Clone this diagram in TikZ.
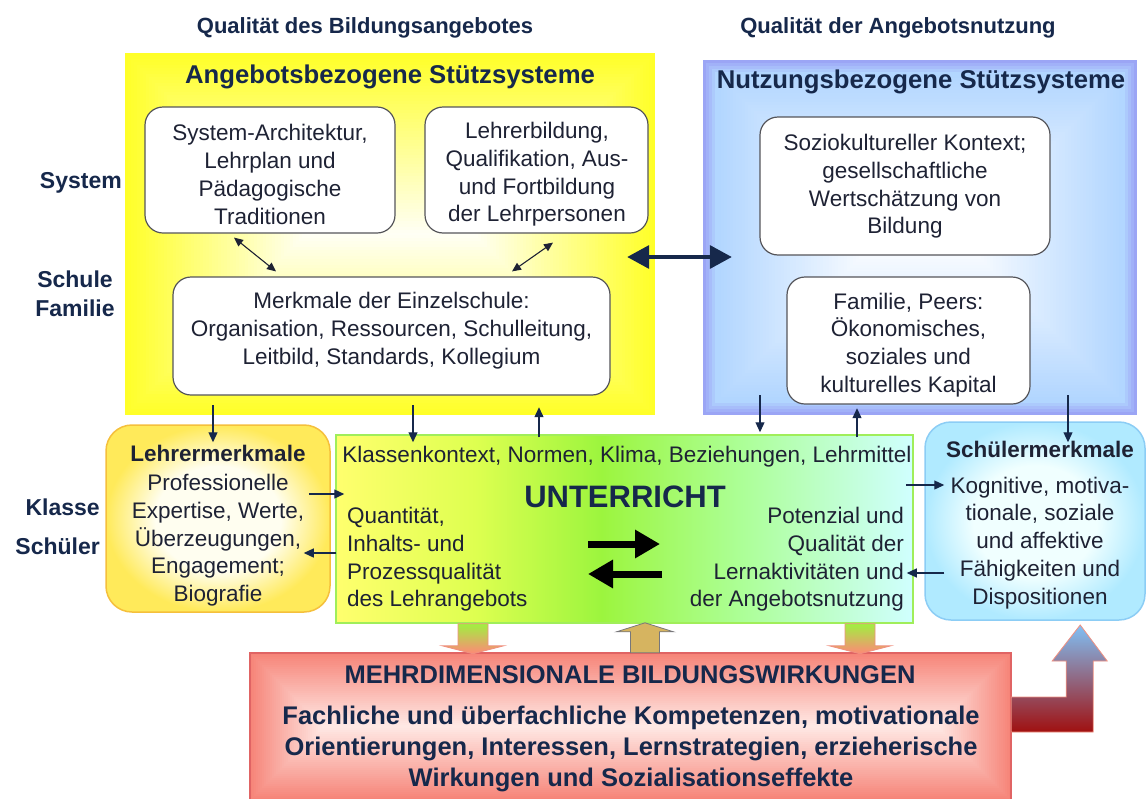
\documentclass[tikz,border=0pt]{standalone}
\usepackage{fontspec}
\setmainfont{Liberation Sans}
\usetikzlibrary{arrows.meta,calc}
\definecolor{navy}{RGB}{22,40,75}
\definecolor{txt}{RGB}{30,34,52}
\definecolor{ylw}{RGB}{255,255,40}
\definecolor{ylwC}{RGB}{255,255,245}
\definecolor{peri}{RGB}{155,165,245}
\definecolor{lblue}{RGB}{178,214,255}
\definecolor{redE}{RGB}{246,132,120}
\definecolor{redC}{RGB}{255,232,228}
\definecolor{redB}{RGB}{224,100,100}
\definecolor{uL}{RGB}{255,255,110}
\definecolor{uY}{RGB}{222,255,80}
\definecolor{uG}{RGB}{156,245,62}
\definecolor{uG2}{RGB}{172,255,150}
\definecolor{uR}{RGB}{208,255,255}
\definecolor{uB}{RGB}{160,238,90}
\definecolor{lmO}{RGB}{255,234,90}
\definecolor{lmI}{RGB}{255,254,240}
\definecolor{lmB}{RGB}{245,192,60}
\definecolor{smO}{RGB}{176,234,255}
\definecolor{smI}{RGB}{240,255,255}
\definecolor{smB}{RGB}{140,205,245}
\definecolor{boxB}{RGB}{85,85,90}
\definecolor{arrTan}{RGB}{214,180,96}
\definecolor{arrGreen}{RGB}{160,240,64}
\definecolor{arrSalmon}{RGB}{255,136,119}
\definecolor{arrLine}{RGB}{240,144,128}
\definecolor{lArrTop}{RGB}{128,192,245}
\definecolor{lArrMid}{RGB}{145,100,140}
\definecolor{lArrBot}{RGB}{160,16,16}
\pgfdeclarehorizontalshading{unterr}{100bp}{color(0bp)=(uL); color(25bp)=(uL); color(37bp)=(uY); color(48bp)=(uG); color(60bp)=(uG2); color(75bp)=(uR); color(100bp)=(uR)}
\pgfdeclareradialshading{lmshade}{\pgfpoint{0bp}{0bp}}{color(0bp)=(lmI); color(14bp)=(lmI); color(25bp)=(lmO); color(50bp)=(lmO)}
\pgfdeclareradialshading{smshade}{\pgfpoint{0bp}{0bp}}{color(0bp)=(smI); color(14bp)=(smI); color(25bp)=(smO); color(50bp)=(smO)}
\newcommand\bodyf{\fontsize{22.5pt}{27.7pt}\selectfont}
\newcommand\hdf{\bfseries\fontsize{22pt}{26pt}\selectfont}
\newcommand\ttlf{\bfseries\fontsize{25.7pt}{30pt}\selectfont}
\newcommand\redf{\bfseries\fontsize{25.5pt}{31pt}\selectfont}
\newcommand\sidef{\bfseries\fontsize{23pt}{29pt}\selectfont}
\begin{document}
\begin{tikzpicture}[x=1pt,y=-1pt,
  wbox/.style={draw=boxB, line width=1.2pt, fill=white, rounded corners=18pt, inner sep=0pt},
  btext/.style={font=\bodyf, text=txt, align=center, inner sep=0pt},
  hdr/.style={font=\hdf, text=navy, inner sep=0pt},
  ttl/.style={font=\ttlf, text=navy, inner sep=0pt},
  sidelbl/.style={font=\sidef, text=navy, inner sep=0pt},
  ghost/.style={inner sep=0pt, draw=none},
  tarr/.style={draw=navy, line width=1.2pt, -{Triangle[length=10pt,width=9pt]}},
  bigarr/.style={draw=navy, line width=3.5pt, {Triangle[length=22pt,width=23pt]}-{Triangle[length=22pt,width=23pt]}},
  blackarr/.style={draw=black, line width=7pt, -{Triangle[length=25pt,width=27pt]}},
  downarr/.style={top color=arrGreen, bottom color=arrSalmon, draw=arrLine, line width=0.8pt},
]
\useasboundingbox (0,0) rectangle (1147,798);
\fill[white] (0,0) rectangle (1147,798);

% ---------- yellow panel ----------
\foreach \i in {0,...,60}{
  \pgfmathtruncatemacro\p{100-\i*100/60}
  \fill[ylw!\p!ylwC] ({125+3*\i},{53+3*\i}) rectangle ({655-3*\i},{415-3*\i});
}
\node[ghost, minimum width=530pt, minimum height=362pt] (yp) at (390,234) {};

% ---------- blue panel ----------
\foreach \i in {0,...,4}{
  \pgfmathtruncatemacro\p{100-\i*25}
  \fill[peri!\p!lblue] ({703+3*\i},{60+3*\i}) rectangle ({1137-3*\i},{415-3*\i});
}
\foreach \i in {5,...,59}{
  \pgfmathtruncatemacro\p{100-(\i-5)*100/54}
  \fill[lblue!\p!white] ({703+3*\i},{60+3*\i}) rectangle ({1137-3*\i},{415-3*\i});
}
\node[ghost, minimum width=434pt, minimum height=355pt] (bp) at (920,237.5) {};

% ---------- red box ----------
\foreach \i in {0,...,36}{
  \pgfmathtruncatemacro\p{100-\i*100/36}
  \fill[redE!\p!redC] ({250+2*\i},{653+2*\i}) rectangle ({1011-2*\i},{800-2*\i});
}
\draw[redB, line width=1.2pt] (250,800) -- (250,653) -- (1011,653) -- (1011,800);
\node[ghost, minimum width=761pt, minimum height=146pt] (rd) at (630.5,726) {};

% ---------- headers ----------
\node[hdr] (h1) at (365,28) {Qualität des Bildungsangebotes};
\node[hdr] (h2) at (898,28) {Qualität der Angebotsnutzung};
\node[ttl] (t1) at (390,77) {Angebotsbezogene Stützsysteme};
\node[ttl] (t2) at (921,82) {Nutzungsbezogene Stützsysteme};

% ---------- side labels ----------
\node[sidelbl, anchor=east] (lSys) at (122,183) {System};
\node[sidelbl, align=center] (lSch) at (75,293.5) {Schule\\Familie};
\node[sidelbl, anchor=east] (lKl) at (100,507) {Klasse};
\node[sidelbl, anchor=east] (lSu) at (100,546) {Schüler};

% ---------- white boxes ----------
\node[wbox, minimum width=250pt, minimum height=126pt] (bA) at (270,170) {};
\node[btext] (tA) at (270,174.5) {System-Architektur,\\Lehrplan und\\Pädagogische\\Traditionen};
\node[wbox, minimum width=223pt, minimum height=126pt] (bB) at (536.5,170) {};
\node[btext] (tB) at (537,174.5) {Lehrerbildung,\\Qualifikation, Aus-\\und Fortbildung\\der Lehrpersonen};
\node[wbox, minimum width=437pt, minimum height=118pt] (bC) at (391.5,336) {};
\node[btext] (tC) at (391.5,330.5) {Merkmale der Einzelschule:\\Organisation, Ressourcen, Schulleitung,\\Leitbild, Standards, Kollegium};
\node[wbox, minimum width=290pt, minimum height=138pt] (bD) at (905,186) {};
\node[btext] (tD) at (905,186.5) {Soziokultureller Kontext;\\gesellschaftliche\\Wertschätzung von\\Bildung};
\node[wbox, minimum width=243pt, minimum height=127pt] (bE) at (908.5,340.5) {};
\node[btext] (tE) at (908.5,345) {Familie, Peers:\\Ökonomisches,\\soziales und\\kulturelles Kapital};

\draw[draw=txt, line width=1.1pt, {Triangle[length=9pt,width=8pt]}-{Triangle[length=9pt,width=8pt]}]
  ($(bA.south)+(-36,4)$) -- ($(bC.north)+(-115.5,-5)$);
\draw[draw=txt, line width=1.1pt, {Triangle[length=9pt,width=8pt]}-{Triangle[length=9pt,width=8pt]}]
  ($(bB.south)+(16.5,9)$) -- ($(bC.north)+(120.5,-5)$);
\draw[bigarr] ($(yp.east)+(-28,23)$) -- ($(bp.west)+(29,19.5)$);

% ---------- middle row ----------
\node[draw=lmB, line width=1.5pt, rounded corners=26pt, shading=lmshade,
      minimum width=224pt, minimum height=187pt] (lm) at (218,518.5) {};
\node[btext, text=txt] (tlm) at (218,525.5) {\textbf{Lehrermerkmale}\\[2pt]Professionelle\\Expertise, Werte,\\Überzeugungen,\\Engagement;\\Biografie};

\node[draw=uB, line width=1.5pt, shading=unterr, minimum width=577pt, minimum height=188pt] (un) at (624.5,529) {};
\node[btext] (tun1) at (627,457) {Klassenkontext, Normen, Klima, Beziehungen, Lehrmittel};
\node[font=\bfseries\fontsize{31pt}{34pt}\selectfont, text=navy, inner sep=0pt] (tun2) at (625,497) {UNTERRICHT};
\node[btext, align=left, anchor=west] (tun3) at (347,559.5) {Quantität,\\Inhalts- und\\Prozessqualität\\des Lehrangebots};
\node[btext, align=right, anchor=east] (tun4) at (904,559.5) {Potenzial und\\Qualität der\\Lernaktivitäten und\\der Angebotsnutzung};

\node[draw=smB, line width=1.5pt, rounded corners=26pt, shading=smshade,
      minimum width=220pt, minimum height=198pt] (sm) at (1035,521) {};
\node[btext] (tsm) at (1040,525) {\textbf{Schülermerkmale}\\[8pt]Kognitive, motiva-\\tionale, soziale\\und affektive\\Fähigkeiten und\\Dispositionen};

\draw[blackarr] ($(un.center)+(-36.5,15)$) -- ($(un.center)+(35.5,15)$);
\draw[blackarr] ($(un.center)+(37.5,45)$) -- ($(un.center)+(-36.5,45)$);

% ---------- thin arrows ----------
\draw[tarr] ($(yp.south)+(-177,-10)$) -- ($(lm.north)+(-5,18)$);
\draw[tarr] ($(yp.south)+(23,-10)$) -- ($(un.north)+(-211.5,8)$);
\draw[tarr] ($(un.north)+(-85.5,3)$) -- ($(yp.south)+(149,-8)$);
\draw[tarr] ($(bp.south)+(-160,-20)$) -- ($(un.north)+(135.5,-2)$);
\draw[tarr] ($(un.north)+(232.5,3)$) -- ($(bp.south)+(-63,-7)$);
\draw[tarr] ($(bp.south)+(148,-20)$) -- ($(sm.north)+(33,21)$);
\draw[tarr] ($(lm.east)+(-22,-24.5)$) -- ($(un.west)+(9,-35)$);
\draw[tarr] ($(un.west)+(1,24)$) -- ($(lm.east)+(-27,34.5)$);
\draw[tarr] ($(un.east)+(-8,-44)$) -- ($(sm.west)+(20,-36)$);
\draw[tarr] ($(sm.west)+(20,52)$) -- ($(un.east)+(-7,44)$);

% ---------- block arrows ----------
\begin{scope}[shift={($(un.south)+(-151.5,0)$)}]
  \path[downarr] (-15,0) -- (15,0) -- (15,22) -- (31,22) -- (0,30) -- (-31,22) -- (-15,22) -- cycle;
\end{scope}
\begin{scope}[shift={($(un.south)+(235.5,0)$)}]
  \path[downarr] (-15,0) -- (15,0) -- (15,22) -- (31,22) -- (0,30) -- (-31,22) -- (-15,22) -- cycle;
\end{scope}
\begin{scope}[shift={($(rd.north)+(14.5,0)$)}]
  \filldraw[fill=arrTan, draw=boxB!80, line width=0.8pt] (-14.5,0) -- (-14.5,-21) -- (-28.5,-21) -- (0,-30) -- (28.5,-21) -- (14.5,-21) -- (14.5,0) -- cycle;
\end{scope}
\begin{scope}[shift={(rd.east)}]
  \path[top color=lArrTop, middle color=lArrMid, bottom color=lArrBot, draw=arrLine, line width=0.8pt]
    (0,-29) -- (55,-29) -- (55,-65) -- (41,-65) -- (69,-101) -- (96,-65) -- (82,-65) -- (82,6) -- (0,6) -- cycle;
\end{scope}

% ---------- red box text ----------
\node[font=\redf, text=navy, inner sep=0pt] (r1) at (630,675) {MEHRDIMENSIONALE BILDUNGSWIRKUNGEN};
\node[font=\redf, text=navy, inner sep=0pt, align=center] (r2) at (631,749) {Fachliche und überfachliche Kompetenzen, motivationale\\Orientierungen, Interessen, Lernstrategien, erzieherische\\Wirkungen und Sozialisationseffekte};
\end{tikzpicture}
\end{document}
